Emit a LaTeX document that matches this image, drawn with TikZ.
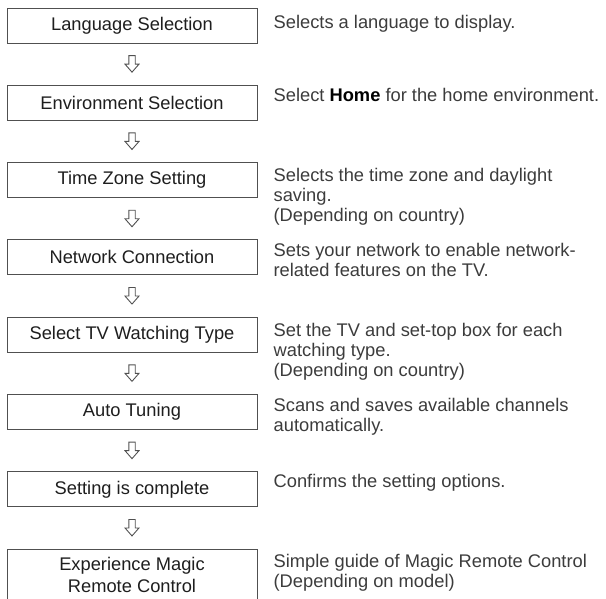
\documentclass[tikz,border=0pt]{standalone}
\usepackage{fontspec}
\setmainfont{Liberation Sans}
\usetikzlibrary{positioning,calc}
\definecolor{boxline}{HTML}{505050}
\definecolor{steptext}{HTML}{1E1E1E}
\definecolor{desctext}{HTML}{3C3C3C}
\tikzset{
  stepbox/.style={draw=boxline,line width=0.9pt,minimum width=250pt,minimum height=35pt,
    text=steptext,align=center,font=\fontsize{18.3}{22}\selectfont},
  desc/.style={anchor=north west,inner sep=0pt,align=left,text=desctext,
    font=\fontsize{18.3}{20}\selectfont},
  hollow/.style={draw=boxline,line width=0.9pt,line join=miter}
}
\begin{document}
\begin{tikzpicture}[x=1pt,y=-1pt,node distance=41.4pt]
  \useasboundingbox (0,0) rectangle (606,599);
  % steps
  \node[stepbox] (lang) at (132,25.5) {Language Selection};
  \node[stepbox,below=of lang] (env) {Environment Selection};
  \node[stepbox,below=of env] (zone) {Time Zone Setting};
  \node[stepbox,below=of zone] (net) {Network Connection};
  \node[stepbox,below=of net] (watch) {Select TV Watching Type};
  \node[stepbox,below=of watch] (tune) {Auto Tuning};
  \node[stepbox,below=of tune] (done) {Setting is complete};
  \node[stepbox,below=of done,minimum height=51pt] (magic) {Experience Magic\\Remote Control};
  % what each step does
  \node[desc] (langd) at ([xshift=16pt,yshift=-7pt]lang.north east) {Selects a language to display.};
  \node[desc] (envd) at ([xshift=16pt,yshift=-3pt]env.north east) {Select \textcolor{black}{\textbf{Home}} for the home environment.};
  \node[desc] (zoned) at ([xshift=16pt,yshift=-6pt]zone.north east) {Selects the time zone and daylight\\saving.\\(Depending on country)};
  \node[desc] (netd) at ([xshift=16pt,yshift=-4pt]net.north east) {Sets your network to enable network-\\related features on the TV.};
  \node[desc] (watchd) at ([xshift=16pt,yshift=-6pt]watch.north east) {Set the TV and set-top box for each\\watching type.\\(Depending on country)};
  \node[desc] (tuned) at ([xshift=16pt,yshift=-4pt]tune.north east) {Scans and saves available channels\\automatically.};
  \node[desc] (doned) at ([xshift=16pt,yshift=-3pt]done.north east) {Confirms the setting options.};
  \node[desc] (magicd) at ([xshift=16pt,yshift=-5pt]magic.north east) {Simple guide of Magic Remote Control\\(Depending on model)};
  % hollow arrows between steps
  \foreach \a/\b in {lang/env,env/zone,zone/net,net/watch,watch/tune,tune/done,done/magic} {
    \draw[hollow] ($(\a.south)!0.5!(\b.north)$) +(-3.2pt,8.5pt) -- +(-3.2pt,0pt) -- +(-7pt,0pt)
      -- +(0pt,-8pt) -- +(7pt,0pt) -- +(3.2pt,0pt) -- +(3.2pt,8.5pt) -- cycle;
  }
\end{tikzpicture}
\end{document}
